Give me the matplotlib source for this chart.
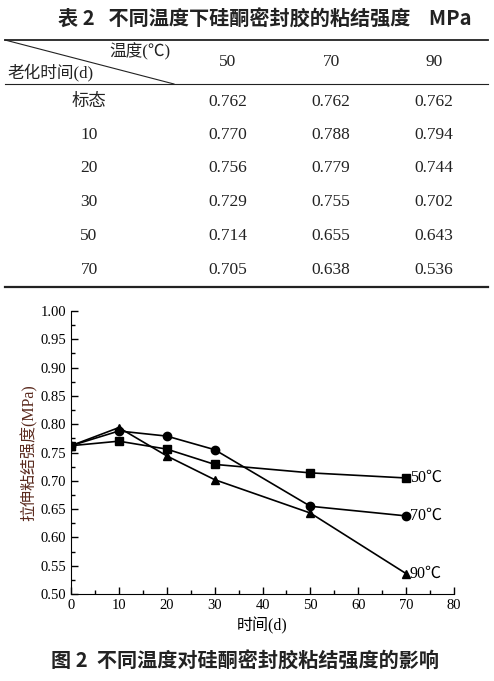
import matplotlib
matplotlib.use("Agg")
import matplotlib.pyplot as plt
from matplotlib.ticker import MultipleLocator, FormatStrFormatter

plt.rcParams['font.family'] = ['Liberation Serif', 'Noto Sans CJK SC']

# data (table 2 / fig 2)
row_labels = ['标态', '10', '20', '30', '50', '70']
days = [0, 10, 20, 30, 50, 70]
temps = ['50', '70', '90']
s50 = [0.762, 0.770, 0.756, 0.729, 0.714, 0.705]
s70 = [0.762, 0.788, 0.779, 0.755, 0.655, 0.638]
s90 = [0.762, 0.794, 0.744, 0.702, 0.643, 0.536]
series = [(s50, 's', '50℃'), (s70, 'o', '70℃'), (s90, '^', '90℃')]

W, H = 494, 681
fig = plt.figure(figsize=(W / 100, H / 100), dpi=100)

# ---- table, drawn on a full-figure axes in pixel units
tab = fig.add_axes([0, 0, 1, 1])
tab.set_xlim(0, W)
tab.set_ylim(H, 0)
tab.axis('off')

cjk = ['Noto Sans CJK SC', 'DejaVu Sans']
tab.text(265, 19, '表 2   不同温度下硅酮密封胶的粘结强度    MPa', ha='center', va='center',
         fontsize=14.5, fontweight='bold', family=cjk, color='#222222')
tab.plot([5, 488], [40, 40], color='#222222', lw=1.3)
tab.plot([5, 488], [84, 84], color='#222222', lw=0.8)
tab.plot([5, 488], [287, 287], color='#222222', lw=1.6)
tab.plot([5, 174], [40, 84], color='#222222', lw=0.8)
tab.text(140, 52, '温度(℃)', ha='center', va='center', fontsize=12, color='#222222')
tab.text(50, 72, '老化时间(d)', ha='center', va='center', fontsize=12, color='#222222')

col_x = [228, 331, 434]
for cx, t in zip(col_x, temps):
    tab.text(cx, 62, t, ha='center', va='center', fontsize=12.5, color='#222222')
row_y = [102, 135, 168, 202, 236, 270]
for i, (ry, lab) in enumerate(zip(row_y, row_labels)):
    tab.text(89, ry, lab, ha='center', va='center', fontsize=12.5, color='#222222')
    for cx, s in zip(col_x, [s50, s70, s90]):
        tab.text(cx, ry, f'{s[i]:.3f}', ha='center', va='center', fontsize=12.5, color='#222222')

# ---- chart
ax = fig.add_axes([71 / W, 1 - 594 / H, (454 - 71) / W, (594 - 311) / H])
for vals, mk, lab in series:
    ax.plot(days, vals, color='black', marker=mk, markersize=6, lw=1.2)
    ax.text(days[-1] + 0.8, vals[-1], lab, ha='left', va='center', fontsize=11.5)

ax.set_xlim(0, 80)
ax.set_ylim(0.50, 1.00)
ax.xaxis.set_major_locator(MultipleLocator(10))
ax.xaxis.set_minor_locator(MultipleLocator(5))
ax.yaxis.set_major_locator(MultipleLocator(0.05))
ax.yaxis.set_minor_locator(MultipleLocator(0.025))
ax.yaxis.set_major_formatter(FormatStrFormatter('%.2f'))
ax.spines['top'].set_visible(False)
ax.spines['right'].set_visible(False)
ax.tick_params(which='both', direction='in', width=1, labelsize=10.5)
ax.tick_params(which='major', length=5)
ax.tick_params(which='minor', length=3)
ax.set_xlabel('时间(d)', fontsize=11.5, labelpad=4)
ax.set_ylabel('拉伸粘结强度(MPa)', fontsize=11.5, color='#5a2a1e', labelpad=2)

fig.text(245 / W, 1 - 661 / H, '图 2  不同温度对硅酮密封胶粘结强度的影响', ha='center', va='center',
         fontsize=14.5, fontweight='bold', family=cjk, color='#222222')

fig.savefig('out.png', dpi=100)
